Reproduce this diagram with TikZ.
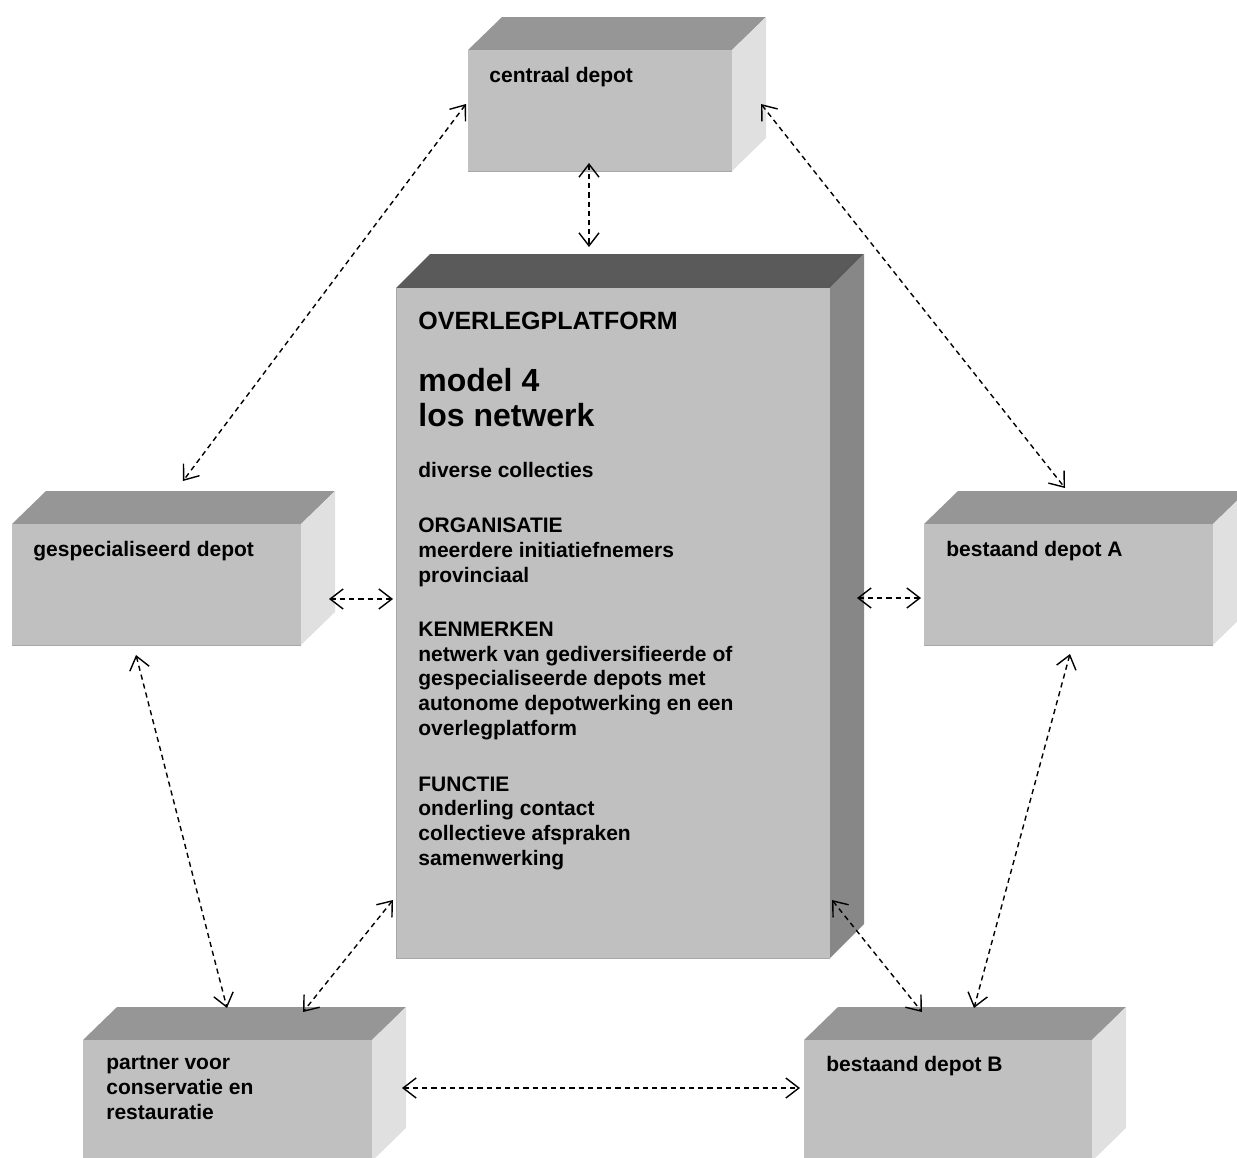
\documentclass[tikz,border=0pt]{standalone}
\usepackage{fontspec}
\setmainfont{Liberation Sans}
\usepackage{xcolor}
\usetikzlibrary{arrows.meta}
\definecolor{voorkant}{HTML}{C0C0C0}
\definecolor{bovenkant}{HTML}{969696}
\definecolor{zijkant}{HTML}{E0E0E0}
\definecolor{bovenplat}{HTML}{5A5A5A}
\definecolor{zijplat}{HTML}{878787}
\definecolor{rand}{HTML}{A8A8A8}

\begin{document}
\begin{tikzpicture}[x=0.5pt,y=-0.5pt,
  voor/.style={fill=voorkant},
  tekst/.style={anchor=base west,inner sep=0pt,align=left,font=\fontsize{10.5}{12.3}\selectfont\bfseries},
  link/.style={line width=0.7pt,dash pattern=on 2.6pt off 2pt,{Straight Barb[length=6.5pt,width=10pt]}-{Straight Barb[length=6.5pt,width=10pt]}}]
\useasboundingbox (0,0) rectangle (1237,1157);
%----------------centraal depot----------
\fill[bovenkant] (468,50) -- ++(34,-33) -- ++(264,0) -- ++(-34,33) -- cycle;
\fill[zijkant] (732,50) -- ++(34,-33) -- ++(0,121) -- ++(-34,33) -- cycle;
\fill[voor] (468,50) rectangle (732,171);
\draw[rand] (468,171) -- (732,171);
\node[tekst] (centraal) at (489,82) {centraal depot};
%----------------gespecialiseerd depot----------
\fill[bovenkant] (12,524) -- ++(34,-33) -- ++(289,0) -- ++(-34,33) -- cycle;
\fill[zijkant] (301,524) -- ++(34,-33) -- ++(0,121) -- ++(-34,33) -- cycle;
\fill[voor] (12,524) rectangle (301,645);
\draw[rand] (12,645) -- (301,645);
\node[tekst] (gespec) at (33,556) {gespecialiseerd depot};
%----------------bestaand depot A----------
\fill[bovenkant] (924,524) -- ++(34,-33) -- ++(289,0) -- ++(-34,33) -- cycle;
\fill[zijkant] (1213,524) -- ++(34,-33) -- ++(0,121) -- ++(-34,33) -- cycle;
\fill[voor] (924,524) rectangle (1213,645);
\draw[rand] (924,645) -- (1213,645);
\node[tekst] (depotA) at (946,556) {bestaand depot A};
%----------------partner (basislijn = laatste regel)----------
\fill[bovenkant] (83,1040) -- ++(34,-33) -- ++(289,0) -- ++(-34,33) -- cycle;
\fill[zijkant] (372,1040) -- ++(34,-33) -- ++(0,121) -- ++(-34,33) -- cycle;
\fill[voor] (83,1040) rectangle (372,1161);
\node[tekst] (partner) at (106,1119) {partner voor\\conservatie en\\restauratie};
%----------------bestaand depot B----------
\fill[bovenkant] (804,1040) -- ++(34,-33) -- ++(288,0) -- ++(-34,33) -- cycle;
\fill[zijkant] (1092,1040) -- ++(34,-33) -- ++(0,121) -- ++(-34,33) -- cycle;
\fill[voor] (804,1040) rectangle (1092,1161);
\node[tekst] (depotB) at (826,1071) {bestaand depot B};
%----------------overlegplatform----------
\fill[bovenplat] (396,288) -- ++(34,-34) -- ++(434,0) -- ++(-34,34) -- cycle;
\fill[zijplat] (830,288) -- ++(34,-34) -- ++(0,670) -- ++(-34,34) -- cycle;
\fill[voor] (396,288) rectangle (830,958);
\draw[rand] (396,288) -- (396,958) -- (830,958);
\node[tekst,font=\fontsize{12.5}{14}\selectfont\bfseries] (titel) at (418,329) {OVERLEGPLATFORM};
\node[tekst,font=\fontsize{16}{17.5}\selectfont\bfseries] (model) at (418,426) {model 4\\los netwerk};
\node[tekst] (collecties) at (418,477) {diverse collecties};
\node[tekst] (organisatie) at (418,582) {ORGANISATIE\\meerdere initiatiefnemers\\provinciaal};
\node[tekst] (kenmerken) at (418,735) {KENMERKEN\\netwerk van gediversifieerde of\\gespecialiseerde depots met\\autonome depotwerking en een\\overlegplatform};
\node[tekst] (functie) at (418,865) {FUNCTIE\\onderling contact\\collectieve afspraken\\samenwerking};
%----------------pijlen----------
\coordinate (c1) at (589,163); \coordinate (c2) at (589,247);
\coordinate (g1) at (466,104); \coordinate (g2) at (183,481);
\coordinate (a1) at (761,104); \coordinate (a2) at (1065,488);
\coordinate (h1) at (329,599); \coordinate (h2) at (393,599);
\coordinate (h3) at (857,598); \coordinate (h4) at (921,598);
\coordinate (p1) at (136,655); \coordinate (p2) at (227,1008);
\coordinate (p3) at (393,900); \coordinate (p4) at (303,1012);
\coordinate (b1) at (1070,654); \coordinate (b2) at (974,1008);
\coordinate (b3) at (832,900); \coordinate (b4) at (922,1012);
\coordinate (q1) at (402,1088); \coordinate (q2) at (800,1088);
\draw[link] (c1)--(c2);
\draw[link] (g1)--(g2);
\draw[link] (a1)--(a2);
\draw[link] (h1)--(h2);
\draw[link] (h3)--(h4);
\draw[link] (p1)--(p2);
\draw[link] (p3)--(p4);
\draw[link] (b1)--(b2);
\draw[link] (b3)--(b4);
\draw[link] (q1)--(q2);
\end{tikzpicture}
\end{document}
